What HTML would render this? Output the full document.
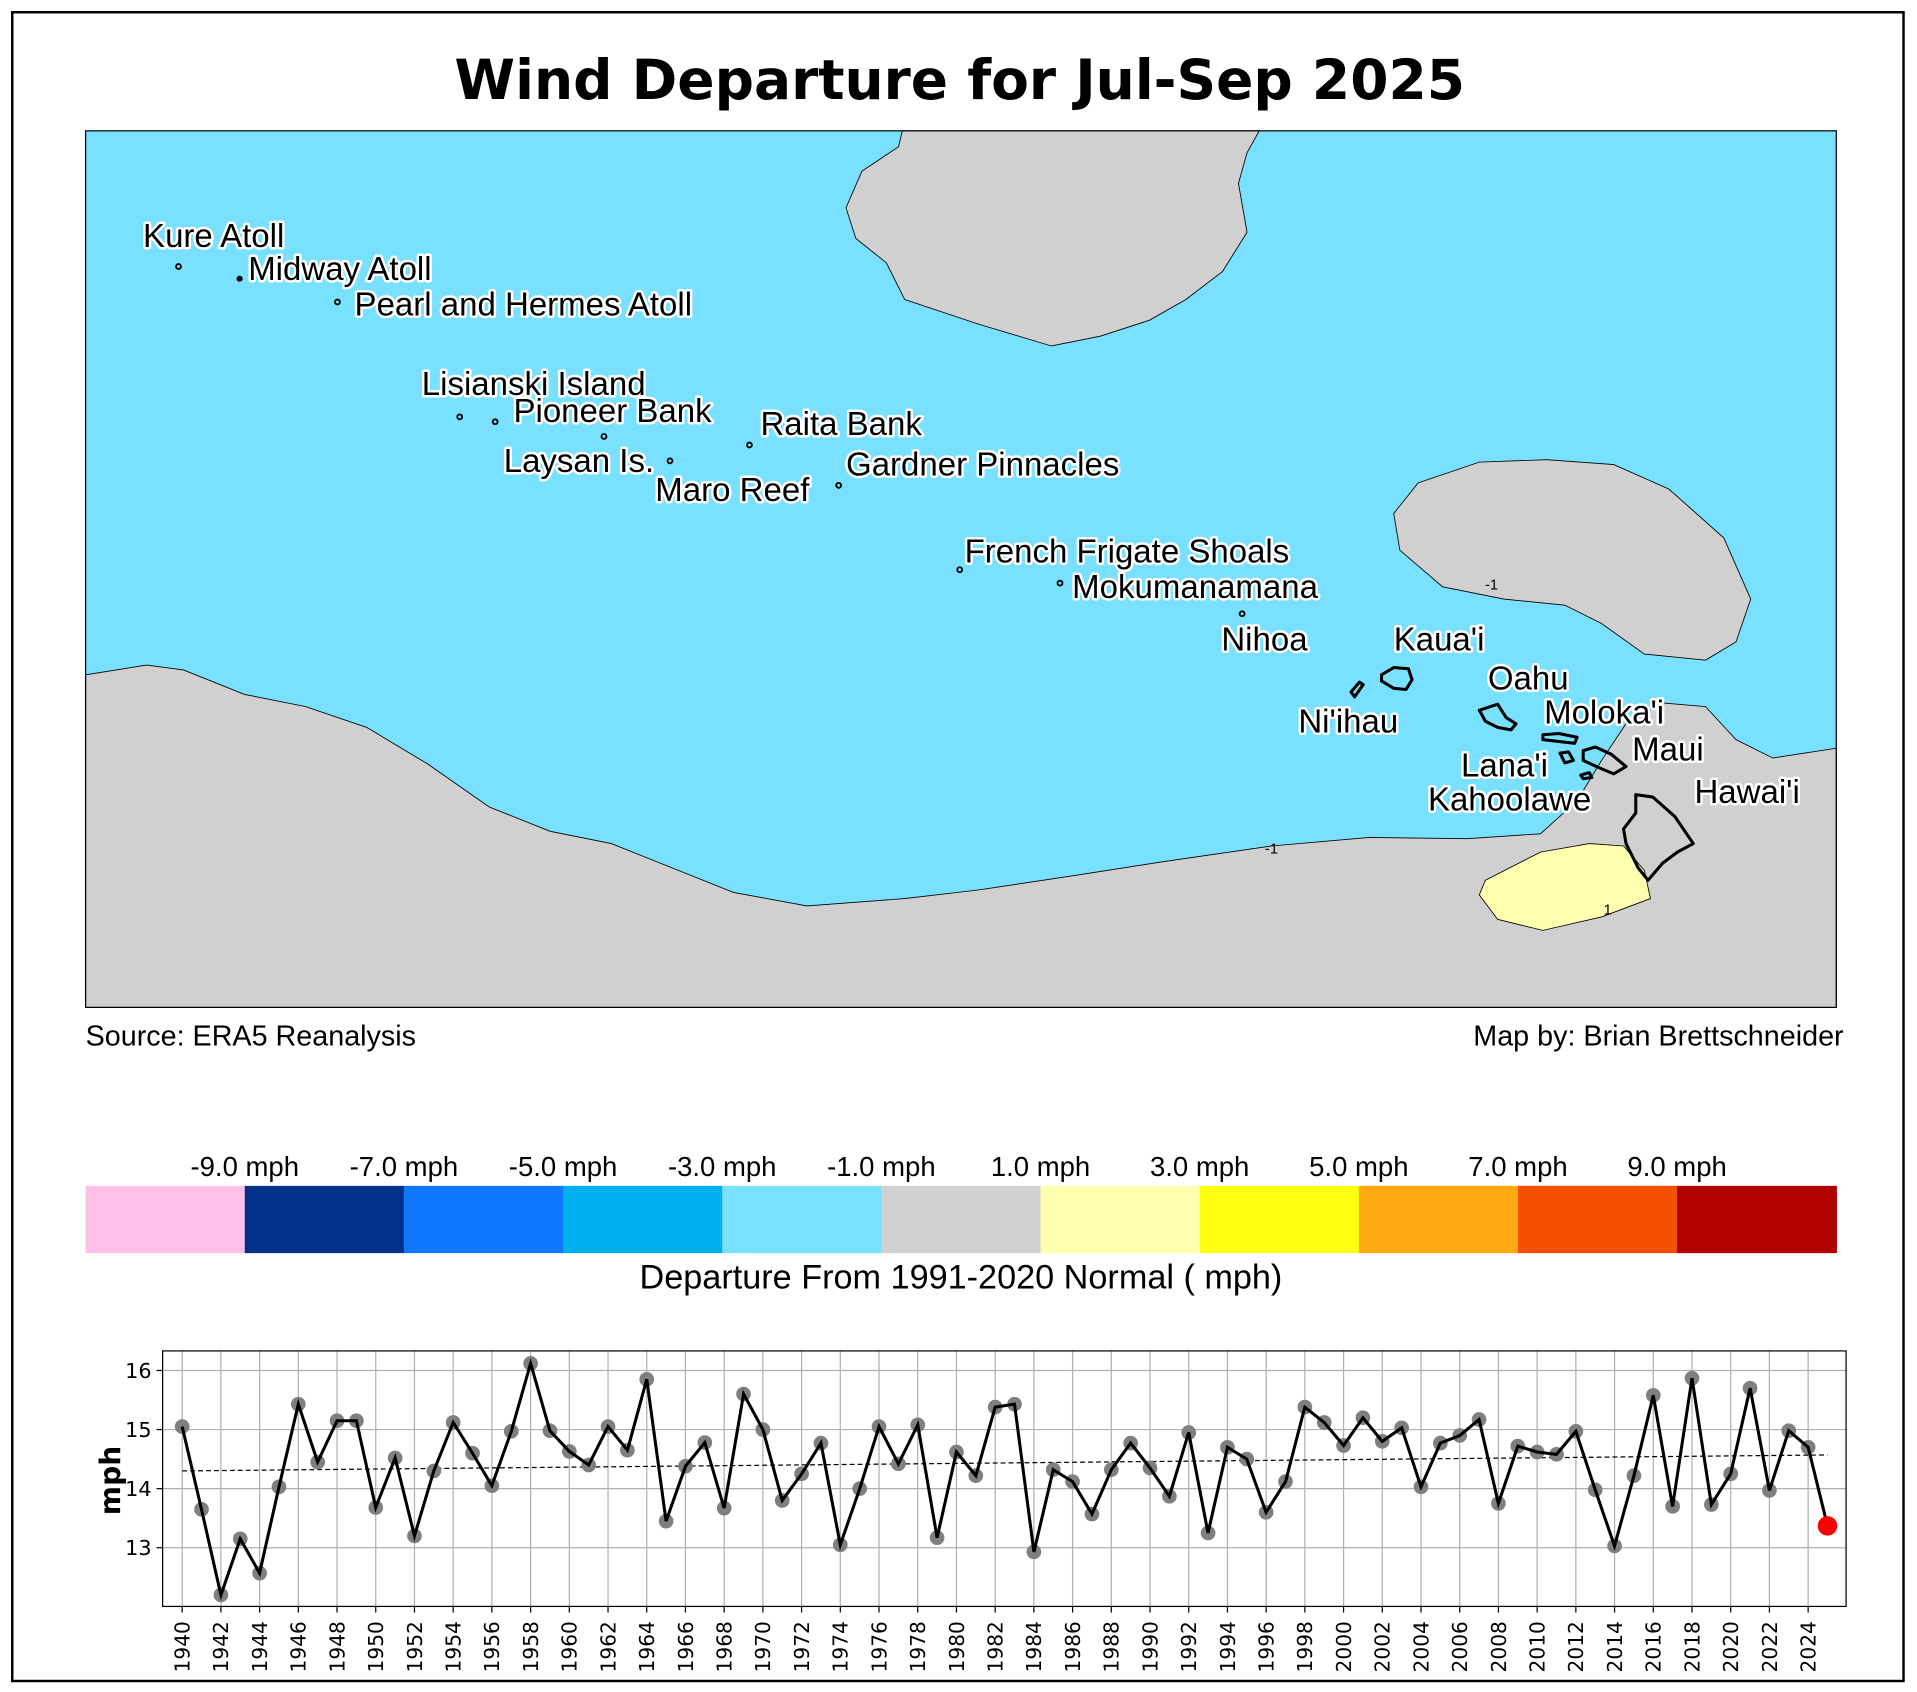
<!DOCTYPE html>
<html><head><meta charset="utf-8">
<style>
html,body{margin:0;padding:0;background:#fff;}
svg{display:block;font-family:"Liberation Sans","DejaVu Sans",sans-serif;}
.lbl{font-size:27px;fill:#000;stroke:#fff;stroke-width:4px;paint-order:stroke;stroke-linejoin:round;}
.isl{fill:none;stroke:#000;stroke-width:2.5;stroke-linejoin:round;}
.dot{fill:none;stroke:#000;stroke-width:1.5;}
</style></head>
<body>
<svg id="s" width="1917" height="1692" viewBox="0 0 1568 1384" xmlns="http://www.w3.org/2000/svg">
<rect x="0" y="0" width="1568" height="1384" fill="#fff"/>
<rect x="10" y="10" width="1547" height="1365" fill="none" stroke="#000" stroke-width="2"/>
<text x="785" y="81" text-anchor="middle" font-size="45" font-weight="bold" font-family="'DejaVu Sans',sans-serif">Wind Departure for Jul-Sep 2025</text>

<rect x="70" y="107" width="1432" height="717" fill="#7ae0ff"/>
<path d="M70,552 L120,544 L150,548 L200,568 L250,578 L300,595 L350,625 L400,660 L450,680 L500,690 L550,710 L600,730 L660,741 L740,735 L800,728 L880,716 L950,705 L1040,692 L1120,685 L1200,686 L1260,682 L1290,655 L1310,622 L1330,592 L1360,575 L1395,578 L1420,605 L1450,620 L1502,612 L1502,824 L70,824 Z" fill="#d0d0d0" stroke="#000" stroke-width="0.7"/>
<path d="M738,107 L735,120 L705,140 L692,170 L700,195 L725,215 L740,245 L800,265 L860,283 L900,275 L940,262 L970,245 L1000,222 L1020,190 L1013,150 L1020,125 L1030,107 Z" fill="#d0d0d0" stroke="#000" stroke-width="0.7"/>
<path d="M1160,395 L1210,378 L1265,376 L1320,380 L1365,400 L1410,440 L1432,490 L1420,525 L1395,540 L1345,535 L1310,510 L1280,495 L1230,490 L1180,480 L1145,450 L1140,420 Z" fill="#d0d0d0" stroke="#000" stroke-width="0.7"/>
<path d="M1215,720 L1260,697 L1300,690 L1328,692 L1345,712 L1350,735 L1310,750 L1262,761 L1225,752 L1210,732 Z" fill="#ffffb0" stroke="#000" stroke-width="0.7"/>
<text x="1220" y="482" font-size="12" text-anchor="middle">-1</text>
<text x="1040" y="698" font-size="12" text-anchor="middle">-1</text>
<text x="1315" y="748" font-size="12" text-anchor="middle">1</text>
<rect x="70" y="107" width="1432" height="717" fill="none" stroke="#000" stroke-width="1"/>

<path class="isl" d="M1105,566 L1112,558 L1115,560 L1108,570 Z"/>
<path class="isl" d="M1130,552 L1140,546 L1152,547 L1155,556 L1150,564 L1140,563 L1130,557 Z"/>
<path class="isl" d="M1210,581 L1225,576 L1232,587 L1240,592 L1236,597 L1225,595 L1215,590 Z"/>
<path class="isl" d="M1262,601 L1275,600 L1290,603 L1288,608 L1262,605 Z"/>
<path class="isl" d="M1276,616 L1283,615 L1287,622 L1280,624 Z"/>
<path class="isl" d="M1295,614 L1305,611 L1318,617 L1330,627 L1320,633 L1308,628 L1295,622 Z"/>
<path class="isl" d="M1293,634 L1300,632 L1302,636 L1295,637 Z"/>
<path class="isl" d="M1338,650 L1352,652 L1370,668 L1385,690 L1372,697 L1360,706 L1348,720 L1340,710 L1330,690 L1328,678 L1338,665 Z"/>

<circle class="dot" cx="146" cy="218" r="2"/>
<circle cx="196" cy="228" r="2.5"/>
<circle class="dot" cx="276" cy="247" r="2"/>
<circle class="dot" cx="376" cy="341" r="2"/>
<circle class="dot" cx="405" cy="345" r="2"/>
<circle class="dot" cx="494" cy="357" r="2"/>
<circle class="dot" cx="548" cy="377" r="2"/>
<circle class="dot" cx="613" cy="364" r="2"/>
<circle class="dot" cx="686" cy="397" r="2"/>
<circle class="dot" cx="785" cy="466" r="2"/>
<circle class="dot" cx="867" cy="477" r="2"/>
<circle class="dot" cx="1016" cy="502" r="2"/>

<text class="lbl" x="117" y="202">Kure Atoll</text>
<text class="lbl" x="203" y="229">Midway Atoll</text>
<text class="lbl" x="290" y="258">Pearl and Hermes Atoll</text>
<text class="lbl" x="345" y="323">Lisianski Island</text>
<text class="lbl" x="420" y="345">Pioneer Bank</text>
<text class="lbl" x="622" y="356">Raita Bank</text>
<text class="lbl" x="412" y="386">Laysan Is.</text>
<text class="lbl" x="692" y="389">Gardner Pinnacles</text>
<text class="lbl" x="536" y="410">Maro Reef</text>
<text class="lbl" x="789" y="460">French Frigate Shoals</text>
<text class="lbl" x="877" y="489">Mokumanamana</text>
<text class="lbl" x="999" y="532">Nihoa</text>
<text class="lbl" x="1140" y="532">Kaua'i</text>
<text class="lbl" x="1217" y="564">Oahu</text>
<text class="lbl" x="1062" y="599">Ni'ihau</text>
<text class="lbl" x="1263" y="592">Moloka'i</text>
<text class="lbl" x="1335" y="622">Maui</text>
<text class="lbl" x="1195" y="635">Lana'i</text>
<text class="lbl" x="1168" y="663">Kahoolawe</text>
<text class="lbl" x="1386" y="657">Hawai'i</text>

<text x="70" y="855" font-size="23.5">Source: ERA5 Reanalysis</text>
<text x="1508" y="855" font-size="23.5" text-anchor="end">Map by: Brian Brettschneider</text>

<g id="cb"></g>
<text x="786" y="1054" font-size="28" text-anchor="middle">Departure From 1991-2020 Normal ( mph)</text>

<g id="ts"></g>
<text transform="translate(98,1211) rotate(-90)" font-size="23" font-weight="bold" text-anchor="middle" font-family="'DejaVu Sans',sans-serif">mph</text>
</svg>
<script>
var NS="http://www.w3.org/2000/svg";
function el(p,t,a,txt){var e=document.createElementNS(NS,t);for(var k in a)e.setAttribute(k,a[k]);if(txt!==undefined)e.textContent=txt;p.appendChild(e);return e;}
var cb=document.getElementById("cb");
var cols=["#ffc0e8","#00308a","#0f78ff","#00b0f0","#7ae0ff","#d0d0d0","#ffffb0","#ffff10","#ffaa10","#f45000","#b00000"];
var x0=70,w=(1502-70)/11;
cols.forEach(function(c,i){el(cb,"rect",{x:x0+i*w,y:970,width:w+0.5,height:55,fill:c});});
var labs=["-9.0","-7.0","-5.0","-3.0","-1.0","1.0","3.0","5.0","7.0","9.0"];
labs.forEach(function(l,i){el(cb,"text",{x:x0+(i+1)*w,y:962,"font-size":22.5,"text-anchor":"middle"},l+" mph");});

var d=[15.05,13.65,12.2,13.15,12.57,14.03,15.43,14.45,15.15,15.15,13.68,14.52,13.2,14.3,15.12,14.6,14.05,14.97,16.12,14.98,14.63,14.4,15.05,14.65,15.85,13.45,14.38,14.78,13.67,15.6,15.0,13.8,14.25,14.77,13.05,14.0,15.05,14.42,15.08,13.17,14.62,14.22,15.38,15.43,12.93,14.32,14.12,13.57,14.32,14.77,14.35,13.87,14.95,13.25,14.7,14.5,13.6,14.12,15.38,15.12,14.73,15.2,14.8,15.03,14.03,14.77,14.9,15.17,13.75,14.72,14.62,14.58,14.97,13.98,13.03,14.22,15.58,13.7,15.87,13.73,14.25,15.7,13.97,14.98,14.7,13.37];
var ts=document.getElementById("ts");
var L=133,R=1510,T=1105,B=1314;
function X(y){return 149+(y-1940)*15.833;}
function Y(v){return 1121+(16-v)*48.33;}
el(ts,"rect",{x:L,y:T,width:R-L,height:B-T,fill:"#fff"});
for(var yr=1940;yr<=2024;yr+=2){var x=X(yr);
 el(ts,"line",{x1:x,y1:T,x2:x,y2:B,stroke:"#b0b0b0","stroke-width":1});
 el(ts,"line",{x1:x,y1:B,x2:x,y2:B+5,stroke:"#000","stroke-width":1});
 el(ts,"text",{transform:"translate("+(x+6)+","+(B+54)+") rotate(-90)","font-size":16.5,"font-family":"'DejaVu Sans',sans-serif"},yr);}
[13,14,15,16].forEach(function(v){var y=Y(v);
 el(ts,"line",{x1:L,y1:y,x2:R,y2:y,stroke:"#b0b0b0","stroke-width":1});
 el(ts,"line",{x1:L-5,y1:y,x2:L,y2:y,stroke:"#000","stroke-width":1});
 el(ts,"text",{x:L-9,y:y+6,"font-size":17,"text-anchor":"end","font-family":"'DejaVu Sans',sans-serif"},v);});
el(ts,"line",{x1:X(1940),y1:Y(14.3),x2:X(2025),y2:Y(14.57),stroke:"#000","stroke-width":1,"stroke-dasharray":"4,2.5"});
d.forEach(function(v,i){if(i<d.length-1)el(ts,"circle",{cx:X(1940+i),cy:Y(v),r:6,fill:"#7f7f7f"});});
var pts=d.map(function(v,i){return X(1940+i).toFixed(1)+","+Y(v).toFixed(1);}).join(" ");
el(ts,"polyline",{points:pts,fill:"none",stroke:"#000","stroke-width":2.5,"stroke-linejoin":"miter"});
el(ts,"circle",{cx:X(2025),cy:Y(d[d.length-1]),r:8,fill:"#ff0000"});
el(ts,"rect",{x:L,y:T,width:R-L,height:B-T,fill:"none",stroke:"#000","stroke-width":1});
</script>
</body></html>
